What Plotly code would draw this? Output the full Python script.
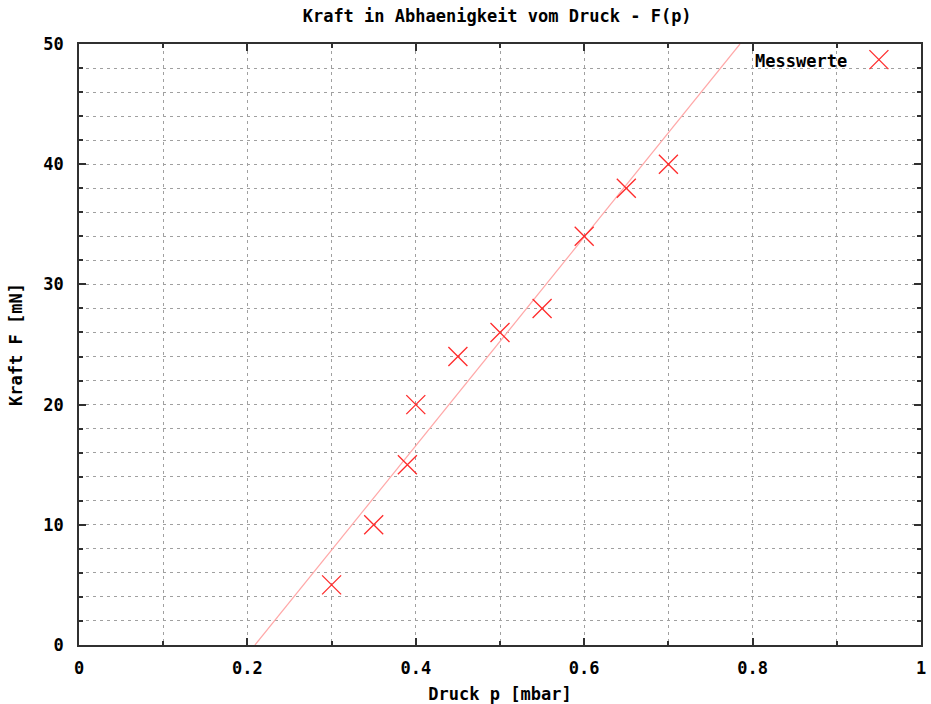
import plotly.graph_objects as go

# Measured values
druck_p = [0.30, 0.35, 0.39, 0.40, 0.45, 0.50, 0.55, 0.60, 0.65, 0.70]
kraft_F = [5, 10, 15, 20, 24, 26, 28, 34, 38, 40]

# Fit line (endpoints)
fit_p = [0.209, 0.785]
fit_F = [0, 50]

x_ticks = [0, 0.2, 0.4, 0.6, 0.8, 1]
x_tick_labels = ["0", "0.2", "0.4", "0.6", "0.8", "1"]
y_ticks = [0, 10, 20, 30, 40, 50]
y_tick_labels = ["0", "10", "20", "30", "40", "50"]

FONT = "DejaVu Sans Mono"
FS = 17
red = "#ff2a2a"
fitcol = "#ffa8a8"
gridcol = "#a0a0a0"
axcol = "#303030"
DASH = "3px,4px"

fig = go.Figure()
fig.add_trace(go.Scatter(x=fit_p, y=fit_F, mode="lines",
                         line=dict(color=fitcol, width=1.2), showlegend=False,
                         hoverinfo="skip"))
fig.add_trace(go.Scatter(x=druck_p, y=kraft_F, mode="markers", name="Messwerte",
                         marker=dict(symbol="x-thin-open", size=19,
                                     line=dict(color=red, width=1.3), color=red),
                         showlegend=False))

axis_common = dict(
    showline=True, linecolor=axcol, linewidth=1.5, mirror="ticks",
    ticks="inside", tickcolor=axcol, tickwidth=1.5, ticklen=7,
    showgrid=True, gridcolor=gridcol, gridwidth=1, griddash=DASH,
    zeroline=False, automargin=False,
    tickfont=dict(family=FONT, size=FS, color="black", weight="bold"),
)

fig.update_xaxes(
    range=[0, 1], tickmode="array", tickvals=x_ticks, ticktext=x_tick_labels,
    minor=dict(dtick=0.1, tick0=0, ticks="inside", ticklen=4, tickcolor=axcol,
               tickwidth=1.5, showgrid=True, gridcolor=gridcol, gridwidth=1,
               griddash=DASH),
    title=dict(text="Druck p [mbar]", font=dict(family=FONT, size=FS, color="black", weight="bold"),
               standoff=13),
    ticklabelstandoff=7,
    **axis_common)
fig.update_yaxes(
    range=[0, 50], tickmode="array", tickvals=y_ticks, ticktext=y_tick_labels,
    minor=dict(dtick=2, tick0=0, ticks="inside", ticklen=4, tickcolor=axcol,
               tickwidth=1.5, showgrid=True, gridcolor=gridcol, gridwidth=1,
               griddash=DASH),
    title=dict(text="Kraft F [mN]", font=dict(family=FONT, size=FS, color="black", weight="bold"),
               standoff=16),
    ticklabelstandoff=10,
    **axis_common)

# Legend (manual, gnuplot style: text then symbol)
fig.add_annotation(x=0.914, y=0.972, xref="paper", yref="paper", text="Messwerte",
                   showarrow=False, xanchor="right", yanchor="middle",
                   font=dict(family=FONT, size=FS, color="black", weight="bold"))
for sgn in (1, -1):
    fig.add_shape(type="line", xref="paper", yref="paper",
                  xsizemode="pixel", ysizemode="pixel",
                  xanchor=0.95, yanchor=0.974,
                  x0=-9.5, x1=9.5, y0=-9.5 * sgn, y1=9.5 * sgn,
                  line=dict(color=red, width=1.3))

fig.update_layout(
    width=931, height=704,
    margin=dict(l=79, r=10, t=44, b=59, autoexpand=False),
    paper_bgcolor="white", plot_bgcolor="white",
    title=dict(text="Kraft in Abhaenigkeit vom Druck - F(p)", x=0.534, xanchor="center",
               y=0.977, yanchor="middle",
               font=dict(family=FONT, size=FS, color="black", weight="bold")),
    showlegend=False,
)

fig.write_html("out.html")
